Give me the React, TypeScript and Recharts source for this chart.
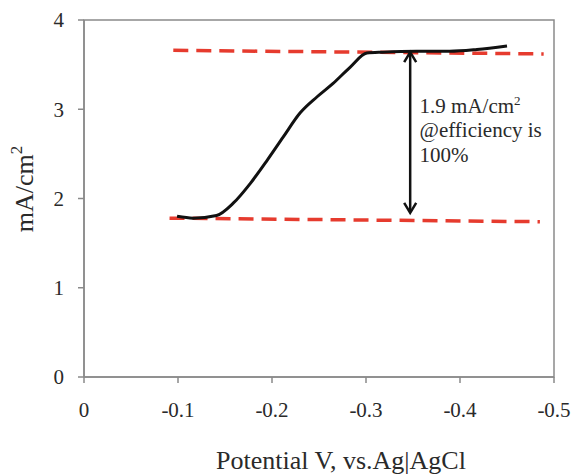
import {
  LineChart,
  Line,
  XAxis,
  YAxis,
  ReferenceArea,
  ReferenceLine,
  ReferenceDot,
  Label,
} from 'recharts';

// Curva de corriente (potencial V vs Ag|AgCl, mA/cm2)
const curveX = [-0.099, -0.116, -0.141, -0.159, -0.177, -0.195, -0.212, -0.23, -0.248, -0.265, -0.283, -0.301, -0.318, -0.354, -0.389, -0.418, -0.45];
const curveY = [1.8, 1.78, 1.81, 1.95, 2.17, 2.43, 2.69, 2.96, 3.14, 3.29, 3.47, 3.63, 3.64, 3.65, 3.65, 3.67, 3.71];

// Líneas discontinuas rojas (límite superior e inferior)
const upperX = [-0.095, -0.489];
const upperY = [3.66, 3.62];
const lowerX = [-0.091, -0.485];
const lowerY = [1.78, 1.74];

// Flecha doble y anotación
const arrowX = -0.347;
const arrowY = [1.84, 3.64];
const noteX = -0.357;
const noteY = 2.96;
const noteLines = ['1.9 mA/cm', '@efficiency is', '100%'];

const xTicks = [0, -0.1, -0.2, -0.3, -0.4, -0.5];
const yTicks = [0, 1, 2, 3, 4];

const toPoints = (xs: number[], ys: number[]) => xs.map((x, i) => ({ x, y: ys[i] }));

const FONT = '"Liberation Serif", "Times New Roman", serif';
const TEXT = '#2a2a2a';
const AXIS = '#8a8a8a';
const RED = '#e63b2e';

const serif = { fontFamily: FONT };

const DoubleArrow = (props: any) => {
  const { x1, y1, x2, y2 } = props;
  const top = Math.min(y1, y2);
  const bottom = Math.max(y1, y2);
  const w = 6;
  const h = 10;
  return (
    <g stroke="#111" strokeWidth={2.5} fill="none">
      <line x1={x1} y1={top + 1} x2={x2} y2={bottom - 1} />
      <polyline points={`${x1 - w},${top + h} ${x1},${top} ${x1 + w},${top + h}`} />
      <polyline points={`${x1 - w},${bottom - h} ${x1},${bottom} ${x1 + w},${bottom - h}`} />
    </g>
  );
};

const Note = (props: any) => {
  const { cx, cy } = props;
  return (
    <text x={cx} y={cy} fontSize={21} fill={TEXT} style={serif}>
      <tspan x={cx} y={cy}>{noteLines[0]}</tspan>
      <tspan dy={-8} fontSize={13}>2</tspan>
      <tspan x={cx} y={cy + 24.5}>{noteLines[1]}</tspan>
      <tspan x={cx} y={cy + 49}>{noteLines[2]}</tspan>
    </text>
  );
};

export default function App() {
  return (
    <div style={{ position: 'absolute', left: 0, top: 0, width: 574, height: 474, background: '#fff', fontFamily: FONT }}>
      <LineChart width={574} height={474} margin={{ top: 20, right: 20, bottom: 0, left: 0 }} style={serif}>
        <XAxis
          dataKey="x"
          type="number"
          domain={[-0.5, 0]}
          reversed
          ticks={xTicks}
          tickFormatter={(v: number) => (v === 0 ? '0' : v.toFixed(1))}
          height={97}
          tickSize={6}
          tickMargin={19}
          stroke={AXIS}
          strokeWidth={1.5}
          tick={{ fill: TEXT, fontSize: 21, style: serif }}
        >
          <Label
            content={() => (
              <text x={341} y={469} textAnchor="middle" fontSize={26} fill={TEXT} style={serif}>
                Potential V, vs.Ag|AgCl
              </text>
            )}
          />
        </XAxis>
        <YAxis
          type="number"
          domain={[0, 4]}
          ticks={yTicks}
          width={84}
          tickSize={6}
          tickMargin={14}
          stroke={AXIS}
          strokeWidth={1.5}
          tick={{ fill: TEXT, fontSize: 21, style: serif }}
        >
          <Label
            content={() => (
              <text
                x={33}
                y={189}
                transform="rotate(-90, 33, 189)"
                textAnchor="middle"
                fontSize={26}
                fill={TEXT}
                style={serif}
              >
                mA/cm<tspan dy={-11} fontSize={17}>2</tspan>
              </text>
            )}
          />
        </YAxis>
        <ReferenceArea x1={-0.5} x2={0} y1={0} y2={4} fill="none" stroke={AXIS} strokeWidth={1.5} />
        <Line
          data={toPoints(upperX, upperY)}
          dataKey="y"
          type="linear"
          stroke={RED}
          strokeWidth={3.5}
          strokeDasharray="15 8"
          dot={false}
          isAnimationActive={false}
        />
        <Line
          data={toPoints(lowerX, lowerY)}
          dataKey="y"
          type="linear"
          stroke={RED}
          strokeWidth={3.5}
          strokeDasharray="15 8"
          dot={false}
          isAnimationActive={false}
        />
        <Line
          data={toPoints(curveX, curveY)}
          dataKey="y"
          type="monotone"
          stroke="#111"
          strokeWidth={3}
          dot={false}
          isAnimationActive={false}
        />
        <ReferenceLine
          segment={[{ x: arrowX, y: arrowY[0] }, { x: arrowX, y: arrowY[1] }]}
          shape={DoubleArrow}
        />
        <ReferenceDot x={noteX} y={noteY} shape={Note} />
      </LineChart>
    </div>
  );
}
